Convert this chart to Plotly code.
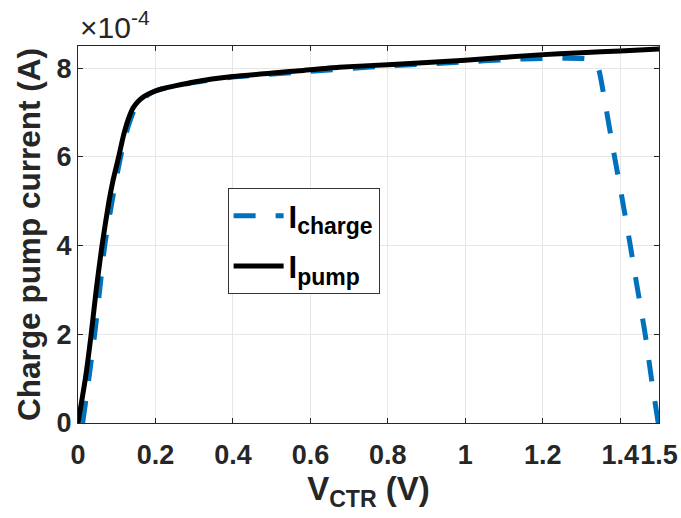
import plotly.graph_objects as go

# I_pump (black), current in units of 1e-4 A
v_pump = [0, 0.019, 0.034, 0.047, 0.062, 0.08, 0.09, 0.105, 0.118, 0.13, 0.142,
          0.155, 0.17, 0.19, 0.215, 0.25, 0.3, 0.4, 0.57, 0.674, 0.8, 1.0, 1.19,
          1.3, 1.4, 1.5]
i_pump = [0, 1, 2, 3, 4, 5, 5.45, 6.0, 6.5, 6.85, 7.1,
          7.25, 7.36, 7.45, 7.53, 7.6, 7.69, 7.81, 7.94, 8.02, 8.08, 8.18, 8.3,
          8.35, 8.39, 8.43]

# I_charge (blue dashed)
v_charge = [0.012, 0.028, 0.043, 0.056, 0.069, 0.088, 0.11, 0.13, 0.15, 0.17, 0.2,
            0.25, 0.3, 0.4, 0.6, 0.8, 1.0, 1.1, 1.2, 1.3, 1.32, 1.335, 1.345, 1.361,
            1.382, 1.404, 1.425, 1.442, 1.464, 1.481, 1.498]
i_charge = [0, 1, 2, 3, 4, 5, 6, 6.7, 7.15, 7.33, 7.49,
            7.59, 7.68, 7.8, 7.93, 8.05, 8.14, 8.19, 8.22, 8.22, 8.2, 8.12, 7.95, 7.21,
            6.16, 5.1, 4.05, 3.15, 2.02, 0.97, 0]

x_ticks = [0, 0.2, 0.4, 0.6, 0.8, 1, 1.2, 1.4, 1.5]
x_labels = ['0', '0.2', '0.4', '0.6', '0.8', '1', '1.2', '1.4', '1.5']
y_ticks = [0, 2, 4, 6, 8]

FONT = 'Liberation Sans'
AX = '#262626'

fig = go.Figure()
fig.add_trace(go.Scatter(
    x=v_charge, y=i_charge, mode='lines', legendgroup='a',
    name="I<sub><span style='font-size:23px'>charge</span></sub>",
    line=dict(color='#0072BD', width=5, dash='22px,20px', shape='spline', smoothing=0.6),
))
fig.add_trace(go.Scatter(
    x=v_pump, y=i_pump, mode='lines', legendgroup='b',
    name="I<sub><span style='font-size:23px'>pump</span></sub>",
    line=dict(color='black', width=5, shape='spline', smoothing=0.6),
))

axis_common = dict(
    showline=True, linecolor=AX, linewidth=1, mirror='ticks',
    ticks='inside', ticklen=5, tickcolor=AX, automargin=False,
    showgrid=True, gridcolor='#e6e6e6', gridwidth=1, zeroline=False,
    tickfont=dict(family=FONT, size=27, color=AX, weight='bold'),
)

fig.update_layout(
    width=681, height=518,
    margin=dict(l=78, r=22, t=46, b=95),
    paper_bgcolor='white', plot_bgcolor='white',
    font=dict(family=FONT, color='black', weight='bold'),
    xaxis=dict(range=[0, 1.5], tickvals=x_ticks, ticktext=x_labels, tickangle=0,
               ticklabelstandoff=8,
               title=dict(text='V<sub>CTR</sub> (V)',
                          font=dict(family=FONT, size=33, color=AX, weight='bold'),
                          standoff=6),
               **axis_common),
    yaxis=dict(range=[0, 8.5], tickvals=y_ticks,
               title=dict(text='Charge pump current (A)',
                          font=dict(family=FONT, size=31.5, color=AX, weight='bold'),
                          standoff=6),
               **axis_common),
    legend=dict(x=0.2575, y=0.623, xanchor='left', yanchor='top',
                bgcolor='white', bordercolor='#333333', borderwidth=1,
                itemwidth=50,
                font=dict(family=FONT, size=31, color='black', weight='bold'),
                tracegroupgap=7),
    showlegend=True,
    annotations=[dict(text='×10<sup>-4</sup>', xref='paper', yref='paper',
                      x=0, y=1, xanchor='left', yanchor='bottom', showarrow=False,
                      font=dict(family=FONT, size=30, color=AX, weight='normal'))],
)

fig.write_html('out.html', config={'displayModeBar': False},
               post_script="document.body.style.margin='0';")
